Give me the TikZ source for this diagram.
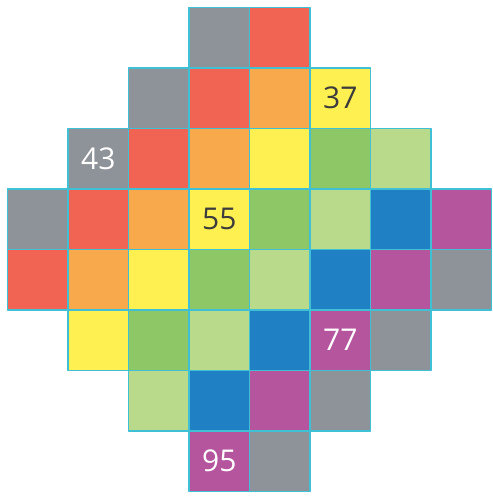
\documentclass[tikz,border=0pt]{standalone}
\usepackage{fontspec}
\setmainfont{Open Sans}
\usetikzlibrary{positioning}
\definecolor{c0}{HTML}{8E9399}
\definecolor{c1}{HTML}{F16353}
\definecolor{c2}{HTML}{F8A94B}
\definecolor{c3}{HTML}{FEF051}
\definecolor{c4}{HTML}{8EC766}
\definecolor{c5}{HTML}{B8DA8A}
\definecolor{c6}{HTML}{2080C4}
\definecolor{c7}{HTML}{B5559E}
\definecolor{c8}{HTML}{8E9399}
\definecolor{rim}{HTML}{3FC0D5}
\definecolor{ink}{HTML}{3C3C3C}
\tikzset{
  cell/.style={minimum size=60.5pt,inner sep=0pt,outer sep=0pt},
  num/.style={font=\fontsize{30}{30}\selectfont,inner sep=0pt}
}

\begin{document}
\begin{tikzpicture}[x=1pt,y=1pt,line cap=round,line join=round]
  \useasboundingbox (0,0) rectangle (492,-500);
  % rows: row / first column / last column
  \foreach \r/\a/\b in {0/3/4,1/2/5,2/1/6,3/0/7,4/0/7,5/1/6,6/2/5,7/3/4}{
    \foreach \c in {\a,...,\b}{
      \pgfmathtruncatemacro{\k}{\c+\r-3}
      \node[cell,fill=c\k] (s-\r-\c) at ({37.75+60.5*\c},{-37.75-60.5*\r}) {};
    }
  }
  \foreach \r/\a/\b in {0/3/4,1/2/5,2/1/6,3/0/7,4/0/7,5/1/6,6/2/5,7/3/4}{
    \foreach \c in {\a,...,\b}
      \draw[rim,line width=1.2pt] (s-\r-\c.north west) rectangle (s-\r-\c.south east);
  }
  \node[num,ink] (n37) at (s-1-5) {37};
  \node[num,white] (n43) at (s-2-1) {43};
  \node[num,ink] (n55) at (s-3-3) {55};
  \node[num,white] (n77) at (s-5-5) {77};
  \node[num,white] (n95) at (s-7-3) {95};
\end{tikzpicture}
\end{document}
